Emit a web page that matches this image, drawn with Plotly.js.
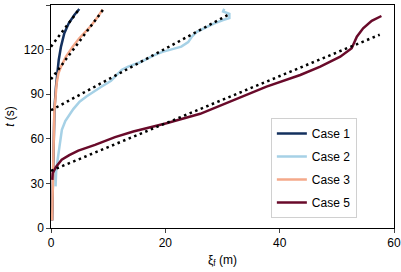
<!DOCTYPE html>
<html><head><meta charset="utf-8">
<script src="https://cdn.plot.ly/plotly-3.0.1.min.js"></script>
<style>html,body{margin:0;padding:0;background:#fff}#c{width:401px;height:272px}</style>
</head><body><div id="c"></div>
<script>
const case1X = [0.2,0.3,0.45,0.6,0.87,1.05,1.35,1.75,2.33,3.1,4.08,4.95];
const case1Y = [5,30,60,80,95,104,113,122,131,137.7,143.3,147.3];
const case2X = [0.8,0.9,1.2,1.5,1.9,2.5,3.0,3.9,5.0,6.2,8.6,10.5,11.5,12.4,13.5,15.6,17.9,19.5,21.4,22.8,24.0,24.6,25.5,27.0,28.5,30.1,31.2,31.2,30.1,30.3];
const case2Y = [28,38,47,57,66,72,75,80,85,88.4,94.5,99,103,106.5,108.5,111.5,116,118.5,120.5,122,125,128.5,132,135,137.5,139.9,141.2,144,145.6,147.5];
const case3X = [0.2,0.3,0.45,0.58,0.75,0.99,1.3,1.75,2.62,3.8,4.95,6.12,7.0,8.0,9.04];
const case3Y = [5,30,60,79,86,97.4,104,108.5,115.2,122,127.6,132,136,141,147];
const case5X = [0.23,0.3,0.87,1.87,3.2,4.78,7.7,11.2,14.4,20.2,26.1,31.9,37.7,43.6,47.1,50.6,52.6,53.5,54.6,56.1,57.8];
const case5Y = [32.4,37,41,45.9,49,52.1,55.9,61.1,64.9,70.5,76.8,86.2,95.1,102.9,108.5,115.2,120.9,128.7,134.3,139.4,142.6];
const fit1X = [0,4.9],  fit1Y = [122,147];
const fit2X = [0,31],   fit2Y = [79.2,143.4];
const fit3X = [0,9.1],  fit3Y = [100,146.7];
const fit5X = [0,57.5], fit5Y = [38.5,130];
const names = ['Case 1','Case 2','Case 3','Case 5'];
const colors = ['#13305e','#a6d1e6','#f4a98a','#690a2a'];
const xTicks = [0,20,40,60], yTicks = [0,30,60,90,120,150];

const series = [[case1X,case1Y],[case2X,case2Y],[case3X,case3Y],[case5X,case5Y]];
const fits = [[fit1X,fit1Y],[fit2X,fit2Y],[fit3X,fit3Y],[fit5X,fit5Y]];
const traces = [];
series.forEach((s,i)=>traces.push({x:s[0],y:s[1],type:'scatter',mode:'lines',name:names[i],
  legendgroup:'g'+i,line:{color:colors[i],width:2.5}}));
fits.forEach((f,i)=>traces.push({x:f[0],y:f[1],type:'scatter',mode:'lines',showlegend:false,
  line:{color:'#000',width:2.5,dash:'2.5px,3.5px'},hoverinfo:'skip'}));

const font = {family:'Liberation Sans, Arial, sans-serif',size:12,color:'#000'};
const layout = {
  width:401,height:272,margin:{l:51,r:7,t:5,b:44},
  paper_bgcolor:'#fff',plot_bgcolor:'#fff',font:font,showlegend:true,
  xaxis:{range:[0,60],tickvals:xTicks,ticktext:xTicks.map(String),showgrid:false,zeroline:false,
    showline:true,mirror:true,linecolor:'#000',linewidth:1.2,ticks:'outside',ticklen:3.5,tickwidth:1,
    tickfont:font,title:{text:'ξ<sub>f</sub> (m)',font:font,standoff:6}},
  yaxis:{range:[0,150],tickvals:yTicks,ticktext:yTicks.map(String),showgrid:false,zeroline:false,
    showline:true,mirror:true,linecolor:'#000',linewidth:1.2,ticks:'outside',ticklen:3.5,tickwidth:1,
    tickfont:font,title:{text:'<i>t</i> (s)',font:font,standoff:6}},
  legend:{x:0.641,y:0.493,xanchor:'left',yanchor:'top',bgcolor:'#fff',bordercolor:'#d0d0d0',borderwidth:1,
    font:{family:font.family,size:12,color:'#000'},tracegroupgap:4,itemwidth:30,entrywidth:112,entrywidthmode:'pixels'}
};
Plotly.newPlot('c',traces,layout,{displayModeBar:false,staticPlot:true});
</script></body></html>
